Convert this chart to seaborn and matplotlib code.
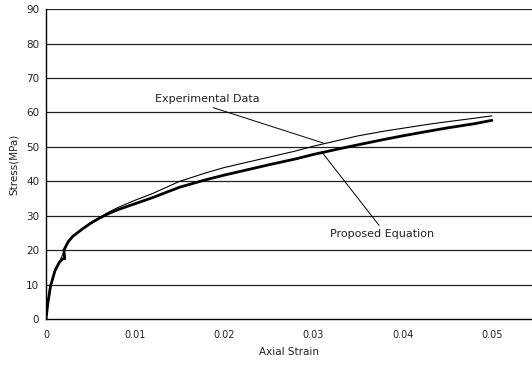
import matplotlib
matplotlib.use("Agg")
import matplotlib.pyplot as plt
import seaborn as sns
import pandas as pd

# Stress-strain curves: test record vs. model
exp_strain = [0, 0.0002, 0.0005, 0.001, 0.0015, 0.002, 0.0025, 0.003, 0.004, 0.005,
              0.006, 0.007, 0.008, 0.01, 0.012, 0.015, 0.018, 0.02, 0.022, 0.025,
              0.028, 0.03, 0.033, 0.035, 0.038, 0.04, 0.043, 0.045, 0.048, 0.05]
exp_stress = [0, 5, 9, 14.5, 16.5, 19.5, 22.5, 24, 26, 28,
              29.5, 31, 32.3, 34.5, 36.5, 40, 42.5, 44, 45.2, 47,
              48.8, 50.2, 52, 53.2, 54.6, 55.4, 56.6, 57.3, 58.3, 59]

prop_strain = [0, 0.0002, 0.0005, 0.001, 0.0015, 0.0019, 0.0021, 0.002, 0.0025, 0.003,
               0.004, 0.005, 0.006, 0.007, 0.008, 0.01, 0.012, 0.015, 0.018, 0.02,
               0.022, 0.025, 0.028, 0.03, 0.033, 0.035, 0.038, 0.04, 0.043, 0.045,
               0.048, 0.05]
prop_stress = [0, 4.5, 9.5, 14, 16.5, 17.5, 17.5, 20, 22.5, 24,
               26, 27.8, 29.3, 30.6, 31.7, 33.5, 35.3, 38.3, 40.5, 41.8,
               43, 44.8, 46.5, 47.8, 49.5, 50.6, 52.2, 53.2, 54.6, 55.5,
               56.7, 57.7]

y_ticks = [0, 10, 20, 30, 40, 50, 60, 70, 80, 90]
x_ticks = [0, 0.01, 0.02, 0.03, 0.04, 0.05]
x_tick_labels = ["0", "0.01", "0.02", "0.03", "0.04", "0.05"]

sns.set_style("white")
plt.rcParams["font.family"] = ["DejaVu Sans"]

fig = plt.figure(figsize=(5.32, 3.65), dpi=100)
ax = fig.add_axes([0.0865, 0.126, 0.9135, 0.849])

exp_df = pd.DataFrame({"strain": exp_strain, "stress": exp_stress})
prop_df = pd.DataFrame({"strain": prop_strain, "stress": prop_stress})

for y in y_ticks[1:]:
    ax.axhline(y, color="#222222", lw=0.9, zorder=0)

sns.lineplot(data=exp_df, x="strain", y="stress", ax=ax, color="black", lw=0.8,
             sort=False, estimator=None)
sns.lineplot(data=prop_df, x="strain", y="stress", ax=ax, color="black", lw=2.0,
             sort=False, estimator=None)

ax.set_xlim(0, 0.0545)
ax.set_ylim(0, 90)
ax.set_xticks(x_ticks)
ax.set_xticklabels(x_tick_labels)
ax.set_yticks(y_ticks)
ax.tick_params(axis="x", direction="in", length=4, width=0.8, labelsize=7, pad=8, color="black")
ax.tick_params(axis="y", direction="out", length=3, width=0.8, labelsize=7.5, pad=2, color="black")
ax.tick_params(labelcolor="#222222")

for side in ["top", "right"]:
    ax.spines[side].set_visible(False)
for side in ["left", "bottom"]:
    ax.spines[side].set_color("black")
    ax.spines[side].set_linewidth(1.0)

ax.set_xlabel("Axial Strain", fontsize=7.5, color="#222222", labelpad=5)
ax.set_ylabel("Stress(MPa)", fontsize=7.5, color="#222222", labelpad=5)

ax.annotate("Experimental Data", xy=(0.0311, 51.1), xytext=(0.0122, 63.8),
            fontsize=8, color="#222222", va="center", ha="left",
            arrowprops=dict(arrowstyle="-", color="black", lw=0.7,
                            shrinkA=0, shrinkB=0, relpos=(0.46, 0.0)))
ax.annotate("Proposed Equation", xy=(0.0309, 48.6), xytext=(0.0318, 24.8),
            fontsize=8, color="#222222", va="center", ha="left",
            arrowprops=dict(arrowstyle="-", color="black", lw=0.7,
                            shrinkA=0, shrinkB=0, relpos=(0.5, 1.0)))

fig.savefig("out.png", dpi=100)
